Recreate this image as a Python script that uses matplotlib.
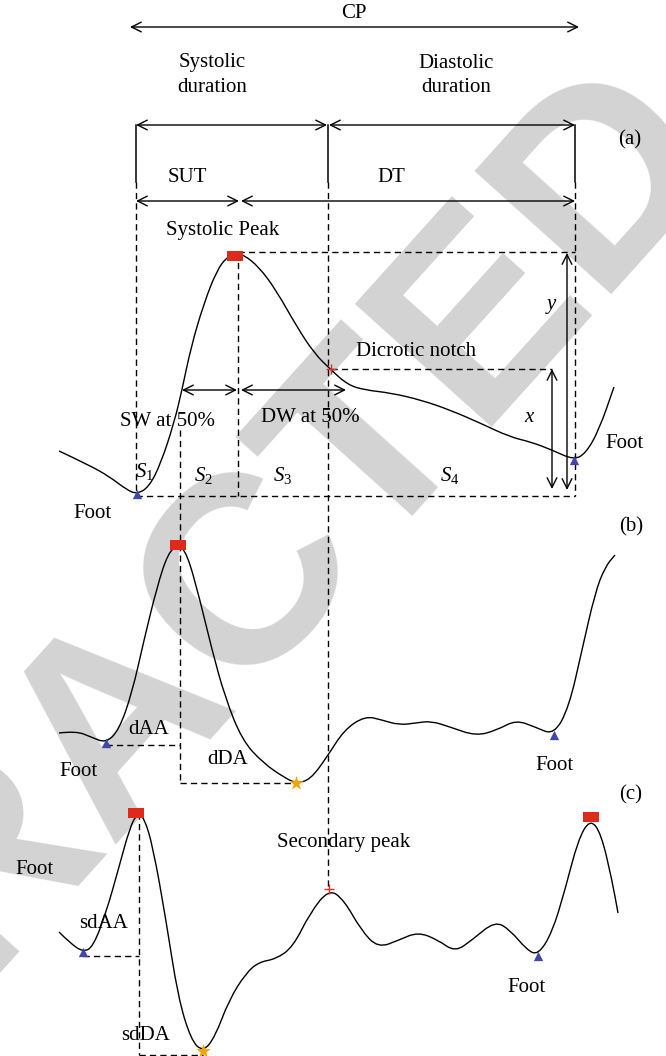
import numpy as np
import matplotlib.pyplot as plt
from matplotlib.path import Path
from matplotlib.patches import PathPatch
from matplotlib.markers import MarkerStyle

plt.rcParams['font.family'] = ['Liberation Serif', 'DejaVu Serif']
plt.rcParams['mathtext.fontset'] = 'custom'
plt.rcParams['mathtext.rm'] = 'Liberation Serif'
plt.rcParams['mathtext.it'] = 'Liberation Serif:italic'

# waveforms, traced in pixel space (x right, y down)
ppg_x = [59, 89, 110, 127, 137, 149, 161, 174, 182, 191, 204, 217, 227, 236, 244, 259, 276, 297,
         314, 331, 348, 365, 391, 421, 450, 480, 510, 531, 552, 574, 586, 599, 614]
ppg_y = [451, 465, 477, 490, 494, 487, 463, 423, 390, 347, 303, 270, 257, 253, 255, 267, 290, 327,
         353, 370, 385, 390, 393, 400, 410, 423, 437, 442, 450, 460, 453, 430, 387]

vpg_x = [59, 76, 91, 106, 119, 132, 144, 157, 168, 178, 187, 200, 212, 225, 242, 263, 285, 296,
         310, 327, 344, 365, 382, 399, 416, 431, 450, 476, 497, 516, 535, 554, 569, 582, 595, 605, 615]
vpg_y = [733, 731, 737, 743, 730, 693, 640, 587, 553, 545, 553, 600, 650, 697, 740, 763, 778, 783,
         780, 757, 730, 716, 720, 725, 723, 721, 727, 736, 730, 720, 727, 735, 707, 650, 593, 567, 555]

apg_x = [59, 70, 83, 93, 106, 119, 130, 137, 144, 153, 166, 178, 191, 203, 215, 229, 246, 259, 276,
         293, 310, 329, 344, 361, 378, 399, 418, 438, 455, 472, 495, 510, 527, 538, 552, 565, 578,
         590, 601, 612, 618]
apg_y = [932, 943, 952, 947, 913, 867, 827, 814, 817, 847, 920, 997, 1040, 1052, 1037, 1000, 973,
         962, 959, 947, 913, 889, 900, 930, 948, 940, 932, 940, 952, 940, 921, 930, 950, 955, 933,
         890, 840, 819, 833, 880, 913]

# feature points
peak_x, peak_y = [235, 178, 136, 591], [256, 545, 813, 817]
foot_x, foot_y = [137, 574, 106, 554, 83, 538], [494, 460, 743, 735, 952, 956]
star_x, star_y = [296, 203], [783, 1051]
notch_x, notch_y = [331, 329], [369, 889]

labels = [
    ('CP', 354, 13), ('Systolic', 212, 63), ('duration', 212, 88),
    ('Diastolic', 456, 63), ('duration', 456, 88), ('(a)', 630, 140),
    ('SUT', 187, 178), ('DT', 391, 178), ('Systolic Peak', 223, 231),
    ('Dicrotic notch', 416, 351), ('$y$', 552, 306), ('$x$', 530, 417),
    ('SW at 50%', 167, 422), ('DW at 50%', 310, 418),
    ('$S_1$', 144, 472), ('$S_2$', 203, 476), ('$S_3$', 283, 476), ('$S_4$', 450, 476),
    ('Foot', 625, 443), ('Foot', 93, 513), ('(b)', 631, 527),
    ('dAA', 149, 730), ('dDA', 228, 760), ('Foot', 78, 772), ('Foot', 554, 765),
    ('(c)', 631, 795), ('Foot', 34, 870), ('Secondary peak', 344, 843),
    ('sdAA', 104, 923), ('sdDA', 146, 1035), ('Foot', 527, 987),
]

solid = [((136, 125), (136, 182)), ((328, 125), (328, 182)), ((575, 125), (575, 182))]
dashed = [((136, 182), (136, 496)), ((328, 182), (328, 890)), ((575, 182), (575, 496)),
          ((136, 496), (575, 496)), ((238, 252), (575, 252)), ((238, 252), (238, 496)),
          ((180, 430), (180, 783)), ((331, 369), (552, 369)),
          ((106, 745), (180, 745)), ((180, 783), (296, 783)),
          ((139, 813), (139, 1055)), ((83, 956), (139, 956)), ((139, 1055), (203, 1055))]
arrows = [((130, 27), (579, 27)), ((136, 125), (327, 125)), ((329, 125), (575, 125)),
          ((136, 201), (239, 201)), ((241, 201), (575, 201)),
          ((182, 390), (237, 390)), ((241, 390), (346, 390)),
          ((552, 369), (552, 489)), ((567, 253), (567, 490))]


def smooth(xs, ys):
    verts = [(xs[0], ys[0])]
    codes = [Path.MOVETO]
    for i in range(1, len(xs) - 1):
        verts += [(xs[i], ys[i]), ((xs[i] + xs[i + 1]) / 2, (ys[i] + ys[i + 1]) / 2)]
        codes += [Path.CURVE3, Path.CURVE3]
    verts.append((xs[-1], ys[-1]))
    codes.append(Path.LINETO)
    return Path(verts, codes)


fig = plt.figure(figsize=(6.66, 10.56), dpi=100)
ax = fig.add_axes([0, 0, 1, 1])
ax.set_xlim(0, 666)
ax.set_ylim(1056, 0)
ax.axis('off')

# retraction watermark
ax.text(119, 718, 'RETRACTED', rotation=48, rotation_mode='anchor', ha='center', va='center',
        fontsize=193, fontweight='bold', family='Liberation Sans', color='#d3d3d3', zorder=0,
        clip_on=True)

for xs, ys in [(ppg_x, ppg_y), (vpg_x, vpg_y), (apg_x, apg_y)]:
    ax.add_patch(PathPatch(smooth(xs, ys), fill=False, lw=1.0, color='black', zorder=3))

for (x0, y0), (x1, y1) in solid:
    ax.plot([x0, x1], [y0, y1], color='black', lw=1.1, zorder=2)
for (x0, y0), (x1, y1) in dashed:
    ax.plot([x0, x1], [y0, y1], color='black', lw=1.0, ls=(0, (4.5, 3)), zorder=2)
for p0, p1 in arrows:
    ax.annotate('', xy=p1, xytext=p0,
                arrowprops=dict(arrowstyle='<->,head_length=0.7,head_width=0.35',
                                lw=1.0, color='black', shrinkA=0, shrinkB=0,
                                mutation_scale=10), zorder=2)

rect = MarkerStyle(Path([(-1, -0.6), (1, -0.6), (1, 0.6), (-1, 0.6), (-1, -0.6)]))
ax.scatter(peak_x, peak_y, marker=rect, s=140, color='#dd2a1b', lw=0, zorder=4)
ax.scatter(foot_x, foot_y, marker='^', s=45, color='#3f48a8', lw=0, zorder=4)
ax.scatter(star_x, star_y, marker='*', s=120, color='#f5a300', lw=0, zorder=4)
ax.scatter(notch_x, notch_y, marker='+', s=60, color='#e0302a', lw=1.0, zorder=4)

for s, x, y in labels:
    ax.text(x, y, s, fontsize=15, ha='center', va='center', zorder=5)

fig.savefig('out.png', dpi=100)
